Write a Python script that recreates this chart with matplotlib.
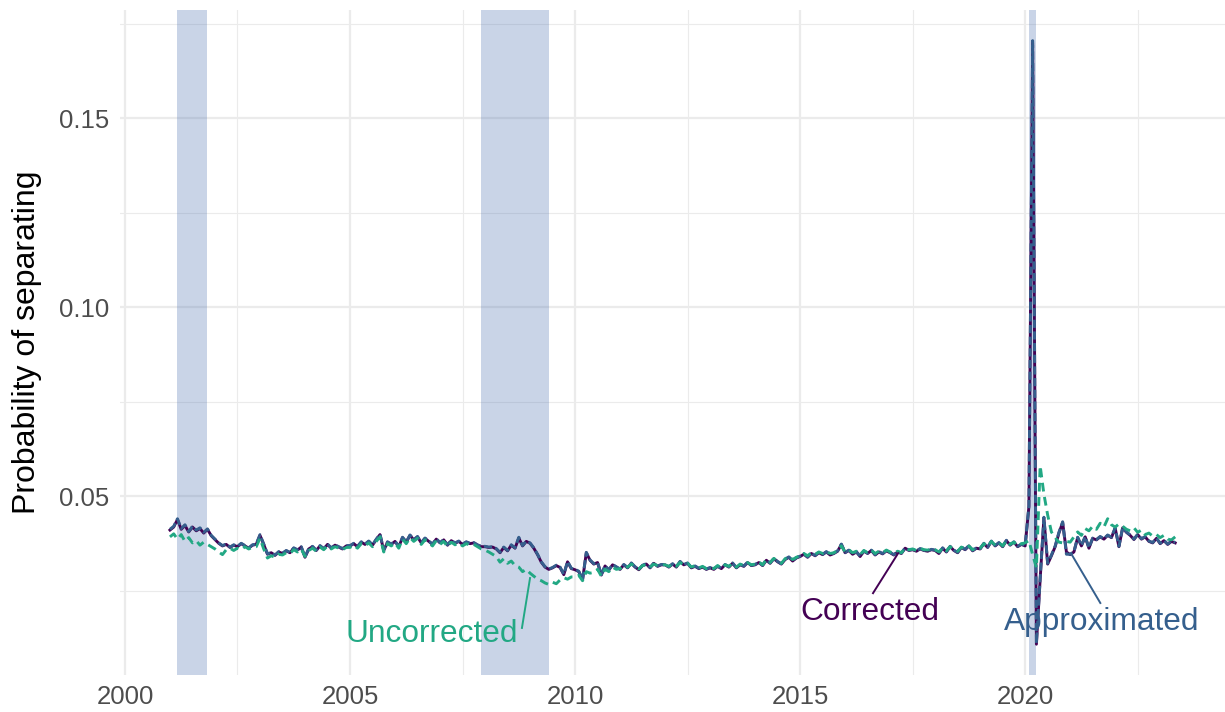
import numpy as np
import pandas as pd
import matplotlib
matplotlib.use("Agg")
import matplotlib.pyplot as plt
from matplotlib.ticker import MultipleLocator

plt.rcParams["font.family"] = ["Liberation Sans", "DejaVu Sans"]

## data -- monthly, Jan 2001 to May 2023
corrected = [
    0.0410, 0.0418, 0.0438, 0.0412, 0.0422, 0.0405, 0.0418, 0.0408, 0.0414, 0.0402, 0.0412, 0.0395,  # 2001
    0.0385, 0.0375, 0.0368, 0.0372, 0.0364, 0.0370, 0.0366, 0.0374, 0.0368, 0.0362, 0.0370, 0.0372,  # 2002
    0.0396, 0.0372, 0.0346, 0.0350, 0.0343, 0.0352, 0.0348, 0.0355, 0.0350, 0.0362, 0.0357, 0.0365,  # 2003
    0.0338, 0.0360, 0.0366, 0.0356, 0.0368, 0.0360, 0.0372, 0.0362, 0.0370, 0.0365, 0.0360, 0.0368,  # 2004
    0.0368, 0.0374, 0.0366, 0.0378, 0.0372, 0.0380, 0.0370, 0.0385, 0.0398, 0.0356, 0.0378, 0.0372,  # 2005
    0.0380, 0.0366, 0.0390, 0.0378, 0.0396, 0.0384, 0.0392, 0.0376, 0.0388, 0.0380, 0.0372, 0.0386,  # 2006
    0.0376, 0.0384, 0.0370, 0.0382, 0.0375, 0.0380, 0.0372, 0.0378, 0.0374, 0.0376, 0.0370, 0.0366,  # 2007
    0.0366, 0.0364, 0.0365, 0.0360, 0.0350, 0.0364, 0.0355, 0.0370, 0.0362, 0.0389, 0.0368, 0.0380,  # 2008
    0.0375, 0.0362, 0.0345, 0.0325, 0.0312, 0.0306, 0.0310, 0.0316, 0.0311, 0.0292, 0.0326, 0.0308,  # 2009
    0.0305, 0.0300, 0.0278, 0.0350, 0.0330, 0.0320, 0.0324, 0.0291, 0.0315, 0.0304, 0.0318, 0.0312,  # 2010
    0.0306, 0.0318, 0.0310, 0.0322, 0.0312, 0.0305, 0.0316, 0.0320, 0.0310, 0.0322, 0.0314, 0.0318,  # 2011
    0.0318, 0.0312, 0.0320, 0.0312, 0.0326, 0.0318, 0.0322, 0.0310, 0.0314, 0.0308, 0.0312, 0.0306,  # 2012
    0.0310, 0.0306, 0.0314, 0.0308, 0.0318, 0.0312, 0.0322, 0.0310, 0.0318, 0.0314, 0.0324, 0.0316,  # 2013
    0.0318, 0.0324, 0.0316, 0.0330, 0.0322, 0.0334, 0.0326, 0.0320, 0.0332, 0.0338, 0.0328, 0.0336,  # 2014
    0.0340, 0.0346, 0.0338, 0.0348, 0.0342, 0.0350, 0.0345, 0.0352, 0.0344, 0.0348, 0.0354, 0.0372,  # 2015
    0.0350, 0.0356, 0.0346, 0.0352, 0.0340, 0.0354, 0.0348, 0.0356, 0.0344, 0.0352, 0.0347, 0.0355,  # 2016
    0.0350, 0.0344, 0.0352, 0.0348, 0.0362, 0.0356, 0.0358, 0.0354, 0.0360, 0.0356, 0.0354, 0.0358,  # 2017
    0.0356, 0.0348, 0.0362, 0.0352, 0.0366, 0.0356, 0.0350, 0.0364, 0.0358, 0.0368, 0.0355, 0.0362,  # 2018
    0.0360, 0.0374, 0.0364, 0.0380, 0.0368, 0.0376, 0.0366, 0.0382, 0.0370, 0.0378, 0.0366, 0.0372,  # 2019
    0.0368, 0.0472, 0.1700, 0.0108, 0.0280, 0.0442, 0.0320, 0.0342, 0.0366, 0.0402, 0.0430, 0.0352,  # 2020
    0.0345, 0.0352, 0.0390, 0.0368, 0.0392, 0.0362, 0.0388, 0.0384, 0.0392, 0.0386, 0.0396, 0.0390,  # 2021
    0.0415, 0.0366, 0.0416, 0.0404, 0.0396, 0.0385, 0.0398, 0.0386, 0.0392, 0.0380, 0.0376, 0.0388,  # 2022
    0.0374, 0.0382, 0.0372, 0.0380, 0.0376,                                                          # 2023
]

approximated = [
    0.0412, 0.0420, 0.0440, 0.0414, 0.0424, 0.0406, 0.0420, 0.0410, 0.0416, 0.0404, 0.0413, 0.0396,  # 2001
    0.0386, 0.0376, 0.0369, 0.0373, 0.0365, 0.0371, 0.0367, 0.0375, 0.0369, 0.0363, 0.0371, 0.0373,  # 2002
    0.0398, 0.0373, 0.0347, 0.0351, 0.0344, 0.0353, 0.0349, 0.0356, 0.0351, 0.0363, 0.0358, 0.0366,  # 2003
    0.0339, 0.0361, 0.0367, 0.0357, 0.0369, 0.0361, 0.0373, 0.0363, 0.0371, 0.0366, 0.0361, 0.0369,  # 2004
    0.0369, 0.0375, 0.0367, 0.0379, 0.0373, 0.0381, 0.0371, 0.0386, 0.0399, 0.0357, 0.0379, 0.0373,  # 2005
    0.0381, 0.0367, 0.0391, 0.0379, 0.0397, 0.0385, 0.0393, 0.0377, 0.0389, 0.0381, 0.0373, 0.0387,  # 2006
    0.0377, 0.0385, 0.0371, 0.0383, 0.0376, 0.0381, 0.0373, 0.0379, 0.0375, 0.0377, 0.0371, 0.0367,  # 2007
    0.0367, 0.0365, 0.0366, 0.0361, 0.0351, 0.0365, 0.0356, 0.0371, 0.0363, 0.0391, 0.0369, 0.0381,  # 2008
    0.0376, 0.0363, 0.0346, 0.0326, 0.0313, 0.0307, 0.0311, 0.0317, 0.0312, 0.0293, 0.0327, 0.0309,  # 2009
    0.0306, 0.0301, 0.0279, 0.0351, 0.0331, 0.0321, 0.0325, 0.0292, 0.0316, 0.0305, 0.0319, 0.0313,  # 2010
    0.0307, 0.0319, 0.0311, 0.0323, 0.0313, 0.0306, 0.0317, 0.0321, 0.0311, 0.0323, 0.0315, 0.0319,  # 2011
    0.0319, 0.0313, 0.0321, 0.0313, 0.0327, 0.0319, 0.0323, 0.0311, 0.0315, 0.0309, 0.0313, 0.0307,  # 2012
    0.0311, 0.0307, 0.0315, 0.0309, 0.0319, 0.0313, 0.0323, 0.0311, 0.0319, 0.0315, 0.0325, 0.0317,  # 2013
    0.0319, 0.0325, 0.0317, 0.0331, 0.0323, 0.0335, 0.0327, 0.0321, 0.0333, 0.0339, 0.0329, 0.0337,  # 2014
    0.0341, 0.0347, 0.0339, 0.0349, 0.0343, 0.0351, 0.0346, 0.0353, 0.0345, 0.0349, 0.0355, 0.0373,  # 2015
    0.0351, 0.0357, 0.0347, 0.0353, 0.0341, 0.0355, 0.0349, 0.0357, 0.0345, 0.0353, 0.0348, 0.0356,  # 2016
    0.0351, 0.0345, 0.0353, 0.0349, 0.0363, 0.0357, 0.0359, 0.0355, 0.0361, 0.0357, 0.0355, 0.0359,  # 2017
    0.0357, 0.0349, 0.0363, 0.0353, 0.0367, 0.0357, 0.0351, 0.0365, 0.0359, 0.0369, 0.0356, 0.0363,  # 2018
    0.0361, 0.0375, 0.0365, 0.0381, 0.0369, 0.0377, 0.0367, 0.0383, 0.0371, 0.0379, 0.0367, 0.0373,  # 2019
    0.0369, 0.0474, 0.1705, 0.0110, 0.0282, 0.0444, 0.0322, 0.0344, 0.0368, 0.0404, 0.0432, 0.0346,  # 2020
    0.0346, 0.0353, 0.0391, 0.0369, 0.0393, 0.0363, 0.0389, 0.0385, 0.0393, 0.0387, 0.0397, 0.0391,  # 2021
    0.0416, 0.0367, 0.0417, 0.0405, 0.0397, 0.0386, 0.0399, 0.0387, 0.0393, 0.0381, 0.0377, 0.0389,  # 2022
    0.0375, 0.0383, 0.0373, 0.0381, 0.0377,                                                          # 2023
]

uncorrected = [
    0.0392, 0.0400, 0.0386, 0.0398, 0.0380, 0.0390, 0.0376, 0.0382, 0.0370, 0.0378, 0.0372, 0.0366,  # 2001
    0.0360, 0.0352, 0.0345, 0.0358, 0.0362, 0.0356, 0.0362, 0.0358, 0.0366, 0.0360, 0.0364, 0.0366,  # 2002
    0.0388, 0.0360, 0.0336, 0.0342, 0.0338, 0.0346, 0.0344, 0.0350, 0.0348, 0.0358, 0.0352, 0.0360,  # 2003
    0.0340, 0.0356, 0.0362, 0.0354, 0.0365, 0.0358, 0.0368, 0.0360, 0.0366, 0.0362, 0.0358, 0.0364,  # 2004
    0.0364, 0.0370, 0.0362, 0.0374, 0.0368, 0.0376, 0.0366, 0.0380, 0.0392, 0.0352, 0.0374, 0.0368,  # 2005
    0.0376, 0.0362, 0.0386, 0.0374, 0.0390, 0.0380, 0.0388, 0.0372, 0.0384, 0.0376, 0.0368, 0.0382,  # 2006
    0.0372, 0.0380, 0.0366, 0.0378, 0.0371, 0.0376, 0.0368, 0.0374, 0.0370, 0.0372, 0.0366, 0.0360,  # 2007
    0.0357, 0.0352, 0.0346, 0.0340, 0.0325, 0.0334, 0.0322, 0.0328, 0.0316, 0.0312, 0.0300, 0.0306,  # 2008
    0.0296, 0.0288, 0.0280, 0.0276, 0.0270, 0.0266, 0.0272, 0.0268, 0.0278, 0.0284, 0.0280, 0.0286,  # 2009
    0.0286, 0.0290, 0.0276, 0.0300, 0.0296, 0.0298, 0.0306, 0.0288, 0.0306, 0.0300, 0.0312, 0.0306,  # 2010
    0.0308, 0.0316, 0.0312, 0.0320, 0.0314, 0.0307, 0.0316, 0.0318, 0.0312, 0.0320, 0.0316, 0.0318,  # 2011
    0.0318, 0.0314, 0.0320, 0.0314, 0.0324, 0.0318, 0.0322, 0.0312, 0.0316, 0.0310, 0.0314, 0.0308,  # 2012
    0.0312, 0.0308, 0.0316, 0.0310, 0.0318, 0.0314, 0.0322, 0.0312, 0.0320, 0.0316, 0.0324, 0.0318,  # 2013
    0.0320, 0.0326, 0.0318, 0.0332, 0.0324, 0.0335, 0.0328, 0.0322, 0.0334, 0.0340, 0.0332, 0.0338,  # 2014
    0.0342, 0.0348, 0.0342, 0.0350, 0.0346, 0.0352, 0.0348, 0.0354, 0.0348, 0.0350, 0.0356, 0.0368,  # 2015
    0.0352, 0.0358, 0.0350, 0.0354, 0.0345, 0.0356, 0.0350, 0.0357, 0.0348, 0.0354, 0.0350, 0.0357,  # 2016
    0.0352, 0.0348, 0.0354, 0.0350, 0.0362, 0.0358, 0.0360, 0.0356, 0.0362, 0.0358, 0.0357, 0.0360,  # 2017
    0.0358, 0.0352, 0.0363, 0.0355, 0.0366, 0.0358, 0.0354, 0.0365, 0.0360, 0.0368, 0.0358, 0.0364,  # 2018
    0.0362, 0.0374, 0.0366, 0.0380, 0.0370, 0.0377, 0.0368, 0.0382, 0.0372, 0.0378, 0.0368, 0.0374,  # 2019
    0.0376, 0.0382, 0.0345, 0.0310, 0.0580, 0.0505, 0.0450, 0.0405, 0.0390, 0.0378, 0.0376, 0.0380,  # 2020
    0.0378, 0.0392, 0.0405, 0.0396, 0.0414, 0.0408, 0.0420, 0.0412, 0.0428, 0.0418, 0.0440, 0.0424,  # 2021
    0.0418, 0.0426, 0.0420, 0.0412, 0.0408, 0.0416, 0.0404, 0.0410, 0.0398, 0.0402, 0.0394, 0.0398,  # 2022
    0.0390, 0.0396, 0.0386, 0.0384, 0.0392,                                                          # 2023
]

# NBER recessions (start, end) as year + (month-1)/12
recession_start = ["2001-03", "2007-12", "2020-02"]
recession_end = ["2001-11", "2009-06", "2020-04"]

series_names = ["Corrected", "Approximated", "Uncorrected"]
series_colors = ["#440154", "#355F8D", "#22A884"]


def decimal_year(dates):
    dates = pd.DatetimeIndex(dates)
    return dates.year + (dates.month - 1) / 12


months = pd.date_range("2001-01-01", periods=len(corrected), freq="MS")
x = decimal_year(months)

## plot
fig = plt.figure(figsize=(12.25, 7.12), dpi=100)
ax = fig.add_axes([120 / 1225, 37 / 712, 1105 / 1225, 665 / 712])

for s, e in zip(decimal_year(recession_start), decimal_year(recession_end)):
    ax.axvspan(s, e, color="#4E73B2", alpha=0.3, lw=0, zorder=1)

ax.plot(x, corrected, color=series_colors[0], lw=2.1, zorder=3)
ax.plot(x, approximated, color=series_colors[1], lw=2.1, dashes=(2.8, 1.2), zorder=4)
ax.plot(x, uncorrected, color=series_colors[2], lw=2.1, dashes=(3.0, 1.9), zorder=5)

# labels with pointer segments
ax.plot([2008.82, 2009.0], [0.0151, 0.0283], color=series_colors[2], lw=1.4, zorder=6)
ax.plot([2016.62, 2017.18], [0.0243, 0.0349], color=series_colors[0], lw=1.4, zorder=6)
ax.plot([2021.67, 2021.04], [0.0217, 0.0344], color=series_colors[1], lw=1.4, zorder=6)
ax.text(2006.81, 0.0114, "Uncorrected", color=series_colors[2], fontsize=22.8,
        ha="center", va="baseline", zorder=7)
ax.text(2016.56, 0.0172, "Corrected", color=series_colors[0], fontsize=22.8,
        ha="center", va="baseline", zorder=7)
ax.text(2021.70, 0.01455, "Approximated", color=series_colors[1], fontsize=22.8,
        ha="center", va="baseline", zorder=7)

ax.set_xlim(1999.89, 2024.44)
ax.set_ylim(0.00265, 0.1786)
ax.xaxis.set_major_locator(MultipleLocator(5))
ax.xaxis.set_minor_locator(MultipleLocator(2.5))
ax.yaxis.set_major_locator(MultipleLocator(0.05))
ax.yaxis.set_minor_locator(MultipleLocator(0.025))
ax.set_yticks([0.05, 0.10, 0.15])
ax.set_yticklabels(["0.05", "0.10", "0.15"])

ax.grid(which="major", color="#EBEBEB", lw=1.6, zorder=0)
ax.grid(which="minor", color="#EBEBEB", lw=0.8, zorder=0)
ax.set_axisbelow(True)
for sp in ax.spines.values():
    sp.set_visible(False)
ax.tick_params(which="both", length=0, labelsize=18.5, labelcolor="#4D4D4D")
ax.tick_params(axis="x", pad=7)
ax.tick_params(axis="y", pad=8)

fig.text(27.5 / 1225, 1 - 342 / 712, "Probability of separating", rotation=90,
         ha="center", va="center", fontsize=23, color="black")

plt.savefig("out.png", dpi=100)
